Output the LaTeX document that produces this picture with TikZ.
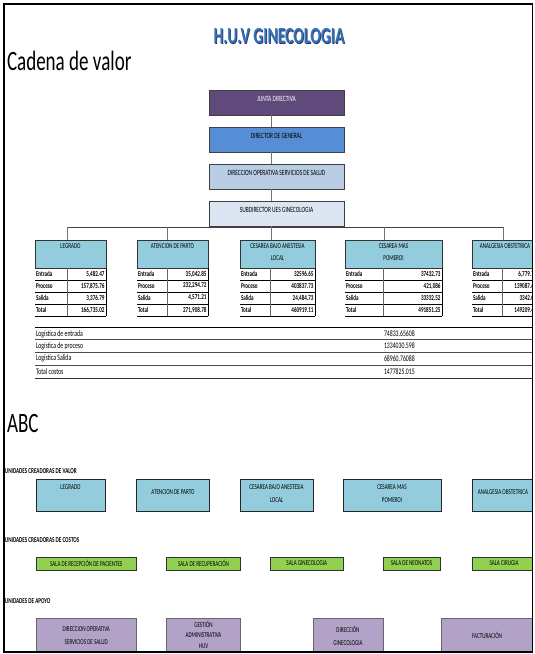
\documentclass[tikz,border=0pt]{standalone}
\usepackage{fontspec}
\setmainfont{Carlito}[FakeStretch=0.68]
\definecolor{jdpurple}{HTML}{604A7B}
\definecolor{dgblue}{HTML}{558ED5}
\definecolor{dopblue}{HTML}{B9CDE5}
\definecolor{subblue}{HTML}{DCE6F2}
\definecolor{aqua}{HTML}{93CDDD}
\definecolor{salagreen}{HTML}{92D050}
\definecolor{apoyo}{HTML}{B3A2C7}
\definecolor{titblue}{HTML}{2E75B6}
\definecolor{titshadow}{HTML}{3A2F6B}

\tikzset{
  every node/.style={inner sep=0pt, outer sep=0pt},
  orgbox/.style={draw=black!75, line width=0.9pt, minimum width=135pt, minimum height=25pt},
  orgtext/.style={font=\fontsize{8}{9}\selectfont},
  wire/.style={draw=black!55, line width=1pt},
  hdr/.style={draw=black!80, line width=0.8pt, fill=aqua, minimum height=28pt},
  hdrtext/.style={font=\fontsize{7.5}{12}\selectfont, align=center},
  rowlbl/.style={font=\bfseries\fontsize{7.5}{8}\selectfont, anchor=west},
  rowval/.style={font=\bfseries\fontsize{7.5}{8}\selectfont, anchor=east},
  rowline/.style={draw=black, line width=0.8pt},
  listtext/.style={font=\fontsize{8.5}{9}\selectfont, anchor=west},
  heading/.style={font=\bfseries\fontsize{7.5}{8}\selectfont, anchor=west},
  bigtitle/.style={font=\fontsize{28}{30}\selectfont, anchor=base west},
  vbox/.style={draw=black!85, line width=1pt, fill=aqua},
  gbox/.style={draw=black!80, line width=0.9pt, fill=salagreen},
  abox/.style={draw=black!60, line width=0.8pt, fill=apoyo},
  boxtext/.style={font=\fontsize{7.5}{13}\selectfont, align=center},
}

% cost table: name, left x, divider x, right x, header, four values
\newcommand{\costtable}[9]{%
  \node[hdr, minimum width={(#4-#2)*1pt}] (#1) at ({(#2+#4)/2},254) {};
  \node[hdrtext, anchor=north] (#1-h) at ([yshift=-4pt]#1.north) {#5};
  \node[rowlbl] (#1-l1) at ({#2+1},274) {Entrada};
  \node[rowlbl] (#1-l2) at ({#2+1},286) {Proceso};
  \node[rowlbl] (#1-l3) at ({#2+1},298) {Salida};
  \node[rowlbl] (#1-l4) at ({#2+1},310) {Total};
  \node[rowval] (#1-v1) at ({#4-1.5},274) {#6};
  \node[rowval] (#1-v2) at ({#4-1.5},286) {#7};
  \node[rowval] (#1-v3) at ({#4-1.5},298) {#8};
  \node[rowval] (#1-v4) at ({#4-1.5},310) {#9};
  \draw[rowline] (#2,280) -- (#4,280) (#2,292) -- (#4,292)
                 (#2,304) -- (#4,304) (#2,316) -- (#4,316);
  \draw[black!60, line width=0.6pt] (#3,268) -- (#3,316);
  \draw[rowline] (#4,268) -- (#4,316);
}

\begin{document}
\begin{tikzpicture}[x=1pt, y=-1pt]
\useasboundingbox (0,0) rectangle (535,654);
\fill[white] (0,0) rectangle (535,654);

\begin{scope}
\clip (4,4) rectangle (532.5,652);

% ---- headings ----
\node[font=\bfseries\fontsize{23}{24}\selectfont, text=titshadow] (title-s) at (279.8,37.2) {H.U.V GINECOLOGIA};
\node[font=\bfseries\fontsize{23}{24}\selectfont, text=titblue] (title) at (279,36.5) {H.U.V GINECOLOGIA};
\node[bigtitle] (cadena) at (7,70) {Cadena de valor};

% ---- organisation chart ----
\node[orgbox, fill=jdpurple] (junta)  at (276.5,102.5) {};
\node[orgbox, fill=dgblue]   (dirgen) at (276.5,139.5) {};
\node[orgbox, fill=dopblue]  (dirop)  at (276.5,176.5) {};
\node[orgbox, fill=subblue]  (sub)    at (276.5,213.5) {};
\node[orgtext, text=white] (junta-t)  at ([yshift=4pt]junta.center) {JUNTA DIRECTIVA};
\node[orgtext] (dirgen-t) at ([yshift=4pt]dirgen.center) {DIRECTOR DE GENERAL};
\node[orgtext] (dirop-t)  at ([yshift=4pt]dirop.center) {DIRECCION OPERATIVA SERVICIOS DE SALUD};
\node[orgtext] (sub-t)    at ([yshift=4pt]sub.center) {SUBDIRECTOR UES GINECOLOGIA};

\coordinate (b1) at (67,227);
\coordinate (b2) at (167,227);
\coordinate (b3) at (271,227);
\coordinate (b4) at (384,227);
\coordinate (b5) at (503,227);

\draw[wire] (junta.south -| b3) -- (dirgen.north -| b3);
\draw[wire] (dirgen.south -| b3) -- (dirop.north -| b3);
\draw[wire] (dirop.south -| b3) -- (sub.north -| b3);

% ---- cost tables ----
\costtable{tleg}{35}{67}{106}{LEGRADO}{5,482.47}{157,875.76}{3,376.79}{166,735.02}
\costtable{tpar}{137}{167}{208}{ATENCION DE PARTO}{35,042.85}{232,294.72}{4,571.21}{271,908.78}
\costtable{tces}{240}{270}{315}{CESAREA BAJO ANESTESIA\\LOCAL}{32596.65}{403837.73}{24,484.73}{460919.11}
\costtable{tpom}{345}{383}{442}{CESAREA MAS\\POMEROI}{37432.73}{421,086}{33332.52}{491851.25}
\costtable{tana}{472}{502}{538}{ANALGESIA OBSTETRICA}{6,779.75}{139087.65}{3342.09}{149209.49}

\draw[wire, draw=black!75] (b1) -- (b5);
\draw[wire] (sub.south -| b3) -- (b3);
\draw[wire] (b1) -- (b1 |- tleg.north);
\draw[wire] (b2) -- (b2 |- tpar.north);
\draw[wire] (b3) -- (b3 |- tces.north);
\draw[wire] (b4) -- (b4 |- tpom.north);
\draw[wire] (b5) -- (b5 |- tana.north);

% ---- logistics summary ----
\draw[black, line width=1pt] (35,327.5) -- (533,327.5);
\draw[black!70, line width=0.6pt] (35,339.5) -- (533,339.5);
\draw[black!70, line width=0.6pt] (35,352) -- (533,352);
\draw[black!70, line width=0.6pt] (35,365) -- (533,365);
\draw[black!80, line width=1pt] (35,378) -- (533,378);
\node[listtext] (le-l) at (36,334) {Logística de entrada};
\node[listtext] (lp-l) at (36,346) {Logística de proceso};
\node[listtext] (ls-l) at (36,358.5) {Logística Salida};
\node[listtext] (lt-l) at (36,371.5) {Total costos};
\node[listtext] (le-v) at (384,334) {74833.65608};
\node[listtext] (lp-v) at (384,346) {1334030.598};
\node[listtext] (ls-v) at (384,358.5) {68960.76088};
\node[listtext] (lt-v) at (384,371.5) {1477825.015};

% ---- ABC ----
\node[bigtitle] (abc) at (7,432) {ABC};

\node[heading] (h-valor) at (5,471) {UNIDADES CREADORAS DE VALOR};
\draw[vbox] (36,479.5) rectangle (105,511.5);
\draw[vbox] (136.5,479.5) rectangle (209,511.5);
\draw[vbox] (240,479.5) rectangle (313,511.5);
\draw[vbox] (343,479.5) rectangle (441,511.5);
\draw[vbox] (472,479.5) rectangle (545,511.5);
\node[boxtext] (v1) at (70.5,487) {LEGRADO};
\node[boxtext] (v2) at (173,492.5) {ATENCION DE PARTO};
\node[boxtext] (v3) at (276.5,494) {CESAREA BAJO ANESTESIA\\LOCAL};
\node[boxtext] (v4) at (392,494) {CESAREA MAS\\POMEROI};
\node[boxtext] (v5) at (503,492.5) {ANALGESIA OBSTETRICA};

\node[heading] (h-costos) at (5,540) {UNIDADES CREADORAS DE COSTOS};
\draw[gbox] (36,557) rectangle (136.5,570);
\draw[gbox] (166.5,557) rectangle (240.6,570);
\draw[gbox] (270.6,557) rectangle (343,570);
\draw[gbox] (383,557) rectangle (440,570);
\draw[gbox] (472,557) rectangle (535,570);
\node[boxtext] (g1) at (86.25,563.5) {SALA DE RECEPCIÓN DE PACIENTES};
\node[boxtext] (g2) at (203.5,563.5) {SALA DE RECUPERACIÓN};
\node[boxtext] (g3) at (306.8,563.5) {SALA GINECOLOGIA};
\node[boxtext] (g4) at (411.5,563.5) {SALA DE NEONATOS};
\node[boxtext] (g5) at (504,563.5) {SALA CIRUGIA};

\node[heading] (h-apoyo) at (5,601) {UNIDADES DE APOYO};
\draw[abox] (36,618) rectangle (136.5,660);
\draw[abox] (166.5,618) rectangle (240.6,660);
\draw[abox] (313,618) rectangle (383,660);
\draw[abox] (441,618) rectangle (545,660);
\node[boxtext] (a1) at (86.25,636) {DIRECCION OPERATIVA\\SERVICIOS DE SALUD};
\node[boxtext, font=\fontsize{7.5}{10.5}\selectfont] (a2) at (203.5,634.5) {GESTIÓN\\ADMINISTRATIVA\\HUV};
\node[boxtext] (a3) at (348,636) {DIRECCIÓN\\GINECOLOGIA};
\node[boxtext] (a4) at (487,635) {FACTURACIÓN};
\end{scope}

% page frame
\draw[black, line width=1.2pt] (4,4) rectangle (532.5,652);
\end{tikzpicture}
\end{document}
